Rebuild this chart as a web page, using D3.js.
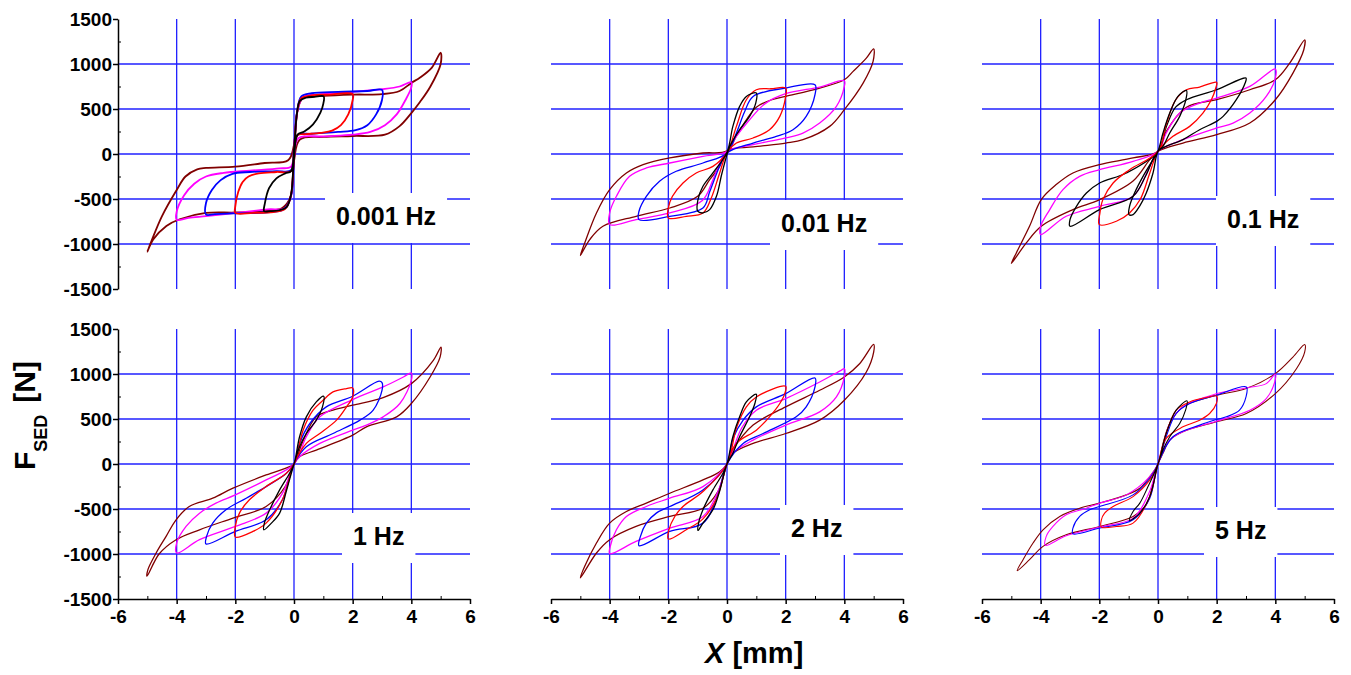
<!DOCTYPE html>
<html>
<head>
<meta charset="utf-8">
<script src="https://cdnjs.cloudflare.com/ajax/libs/d3/7.8.5/d3.min.js"></script>
<style>
  body { margin: 0; background: #fff; }
  svg text { font-family: "Liberation Sans", Arial, sans-serif; font-weight: bold; }
</style>
</head>
<body>
<div id="chart"></div>
<script>
// frequency of each panel, row by row
var freqLabels = ["0.001 Hz", "0.01 Hz", "0.1 Hz", "1 Hz", "2 Hz", "5 Hz"];

// tick values
var xTicks = [-6, -4, -2, 0, 2, 4, 6];
var xMinor = [-5, -3, -1, 1, 3, 5];
var yTicks = [-1500, -1000, -500, 0, 500, 1000, 1500];
var yMinor = [-1250, -750, -250, 250, 750, 1250];
var xGrid = [-4, -2, 0, 2, 4];
var yGrid = [-1000, -500, 0, 500, 1000];

// loop colours, amplitude 1..5 mm
var loopColors = ["#000000", "#ff0000", "#0000ff", "#ff00ff", "#800000"];
var loopColors01 = ["#000000", "#ff0000", "#000000", "#ff00ff", "#800000"];

// each loop: [X mm, F N], upper branch from -A to +A then lower branch back
var loops0001 = [
  [[-1.02,-635],[-1.0,-560],[-0.85,-380],[-0.6,-270],[-0.3,-215],[-0.1,-190],[0.0,50],[0.1,450],[0.2,590],[0.4,625],[0.7,635],[1.01,640],
   [1.0,560],[0.9,460],[0.65,330],[0.35,250],[0.12,215],[0.0,-50],[-0.1,-450],[-0.25,-590],[-0.5,-625],[-0.8,-635]],
  [[-2,-655],[-2,-580],[-1.9,-420],[-1.75,-310],[-1.55,-250],[-1.2,-215],[-0.6,-200],[-0.1,-190],[0,50],[0.1,450],[0.25,620],[0.6,650],[1.2,660],[2,665],
   [2,600],[1.85,440],[1.6,320],[1.3,260],[0.9,235],[0.4,220],[0.12,210],[0,-50],[-0.1,-450],[-0.3,-610],[-0.7,-645],[-1.4,-655]],
  [[-3,-672],[-3,-545],[-2.8,-400],[-2.5,-290],[-2.1,-220],[-1.5,-200],[-0.6,-190],[-0.1,-180],[0,60],[0.1,460],[0.25,640],[0.6,675],[1.5,690],[2.5,700],[3,712],
   [3,600],[2.8,440],[2.5,320],[2.1,265],[1.5,245],[0.6,225],[0.12,210],[0,-50],[-0.1,-460],[-0.35,-615],[-1,-650],[-2,-660],[-2.7,-668]],
  [[-4,-730],[-4,-640],[-3.75,-460],[-3.4,-330],[-3,-250],[-2.4,-210],[-1.5,-185],[-0.5,-160],[-0.1,-140],[0,80],[0.12,480],[0.3,630],[0.8,660],[2,690],[3,720],[3.6,750],[4,797],
   [4,740],[3.8,600],[3.5,440],[3.1,320],[2.6,245],[2,215],[1,195],[0.15,175],[0,-60],[-0.1,-470],[-0.3,-600],[-0.9,-615],[-2,-655],[-3,-690],[-3.6,-710]],
  [[-5.0,-1085],[-4.85,-960],[-4.5,-690],[-4.0,-400],[-3.7,-250],[-3.3,-170],[-3.0,-155],[-2,-140],[-1,-100],[-0.2,-70],[0,100],[0.12,480],[0.3,620],[1,645],[2,660],[3,665],[3.6,700],[4,790],[4.3,850],[4.7,960],[5.0,1125],
   [5.0,1000],[4.65,750],[4.3,580],[4,455],[3.6,310],[3.1,215],[2,200],[1,190],[0.2,160],[0,-80],[-0.12,-480],[-0.4,-600],[-1,-635],[-2,-650],[-3,-655],[-3.9,-725],[-4.35,-800],[-4.8,-950]]
];

var loops001 = [
  [[-1,-636],[-0.99,-507],[-0.82,-359],[-0.48,-211],[0,20],[0.2,307],[0.43,529],[0.66,640],[1,677],
   [0.98,566],[0.77,418],[0.43,270],[0.1,85],[-0.17,-211],[-0.36,-470],[-0.59,-618],[-0.82,-655]],
  [[-2,-710],[-2,-600],[-1.86,-470],[-1.5,-322],[-1.05,-211],[-0.48,-137],[0,15],[0.32,307],[0.66,603],[1,714],[1.5,725],[2,733],
   [2,640],[1.8,418],[1.45,270],[0.89,178],[0.32,122],[0,15],[-0.25,-211],[-0.55,-500],[-0.82,-655],[-1.39,-692]],
  [[-3,-729],[-3,-636],[-2.75,-470],[-2.3,-303],[-1.73,-192],[-0.82,-100],[0,11],[0.32,233],[0.6,470],[0.89,640],[2,733],[3,770],
   [3,659],[2.7,418],[2.25,270],[1.68,196],[0.89,122],[0,11],[-0.25,-137],[-0.59,-420],[-0.82,-600],[-1.95,-692]],
  [[-4,-784],[-4,-655],[-3.77,-470],[-3.32,-248],[-2.75,-155],[-1.95,-100],[-0.82,-26],[0,30],[0.32,196],[0.77,381],[1.3,560],[2,670],[3.16,744],[4,814],
   [4,751],[3.73,529],[3.16,344],[2.59,233],[2,178],[0.89,104],[0,30],[-0.25,-100],[-0.48,-285],[-0.85,-520],[-1.95,-655],[-3.1,-729]],
  [[-5,-1128],[-4.85,-988],[-4.45,-655],[-4,-396],[-3.43,-211],[-2.86,-118],[-1.95,-44],[-0.82,11],[0,35],[0.32,200],[0.66,380],[1,520],[1.5,600],[2,640],[3.16,733],[4,825],[4.3,918],[4.75,1066],[5,1169],
   [4.98,1029],[4.64,788],[4,492],[3.5,307],[2.59,159],[2,122],[0.89,78],[0,35],[-0.25,-137],[-0.59,-285],[-1,-470],[-1.95,-600],[-3.1,-692],[-4.23,-803],[-4.68,-951]]
];

var loops01 = [
  [[-0.99,-673],[-0.97,-581],[-0.8,-433],[-0.51,-248],[-0.17,-63],[0,30],[0.17,233],[0.4,455],[0.68,640],[0.97,707],
   [0.95,603],[0.74,418],[0.4,233],[0.17,85],[0,30],[-0.17,-211],[-0.4,-433],[-0.63,-581],[-0.85,-673]],
  [[-2,-784],[-1.98,-655],[-1.88,-507],[-1.53,-322],[-0.97,-174],[0,30],[0.28,330],[0.6,600],[0.97,714],[1.42,744],[2,796],
   [1.97,733],[1.82,603],[1.53,455],[1.08,307],[0.51,196],[0,30],[-0.28,-211],[-0.6,-500],[-0.97,-655],[-1.42,-747]],
  [[-3,-803],[-3,-729],[-2.78,-581],[-2.44,-433],[-1.99,-322],[-1.08,-211],[0,30],[0.28,300],[0.6,520],[0.97,603],[2,714],[3,844],
   [2.97,788],[2.67,603],[2.22,418],[2,363],[1.42,270],[0.85,159],[0,30],[-0.4,-230],[-0.85,-470],[-1.99,-618]],
  [[-4,-895],[-4,-803],[-3.69,-618],[-3.24,-396],[-2.67,-248],[-1.99,-174],[-0.85,-81],[0,30],[0.28,233],[0.74,455],[1.42,566],[2,622],[3.13,751],[4,944],
   [4,844],[3.69,640],[3.13,455],[2.56,344],[2,289],[0.85,159],[0,30],[-0.28,-137],[-0.85,-470],[-1.99,-581],[-3.13,-692]],
  [[-5,-1217],[-4.83,-1099],[-4.38,-803],[-3.98,-507],[-3.47,-340],[-2.9,-211],[-1.99,-118],[-0.85,-44],[0,30],[0.28,250],[0.97,520],[2,603],[3.13,714],[4,825],[4.49,1010],[5,1269],
   [4.97,1158],[4.6,899],[4,603],[3.13,344],[2,215],[0.85,122],[0,30],[-0.28,-63],[-0.85,-300],[-1.99,-507],[-2.9,-618],[-3.98,-803],[-4.49,-988]]
];

var loops1 = [
  [[-1.03,-731],[-1.01,-657],[-0.83,-509],[-0.49,-288],[-0.15,-103],[0,0],[0.19,303],[0.42,524],[0.76,690],[1.01,753],
   [0.97,635],[0.76,487],[0.42,339],[0.19,192],[0,0],[-0.26,-300],[-0.49,-546],[-0.77,-657]],
  [[-2,-812],[-2,-694],[-1.86,-546],[-1.52,-398],[-0.95,-251],[-0.26,-103],[0,0],[0.31,376],[0.65,598],[0.99,708],[1.33,801],[1.79,838],[2,845],
   [2,745],[1.79,635],[1.45,487],[0.88,339],[0.42,229],[0,0],[-0.4,-400],[-0.95,-657],[-1.4,-749]],
  [[-3,-889],[-2.98,-804],[-2.77,-657],[-2.32,-509],[-1.63,-380],[-0.95,-251],[-0.26,-103],[0,0],[0.19,229],[0.54,450],[1.1,635],[2,753],[2.9,920],[3,905],
   [3,819],[2.7,598],[2.25,487],[1.33,339],[0.42,192],[0,0],[-0.4,-400],[-0.95,-620],[-2,-749]],
  [[-4,-989],[-4,-878],[-3.68,-694],[-3.22,-546],[-2.66,-435],[-2,-343],[-0.95,-177],[0,0],[0.42,303],[0.88,524],[2,716],[3.04,856],[3.73,967],[4,1011],
   [4,930],[3.61,672],[3.04,524],[2.47,432],[2,376],[0.88,229],[0.19,81],[0,0],[-0.4,-330],[-0.95,-546],[-2,-694],[-3.22,-841]],
  [[-5.01,-1247],[-4.98,-1173],[-4.7,-989],[-4.36,-804],[-4.02,-620],[-3.57,-472],[-2.77,-380],[-2.08,-269],[-0.95,-122],[-0.15,-30],[0,0],[0.3,250],[0.76,524],[1.33,598],[2,653],[3.04,738],[4,893],[4.75,1151],[5.01,1299],
   [4.98,1188],[4.64,967],[4,672],[3.5,524],[2.47,413],[2,321],[0.76,155],[0.19,81],[0,0],[-0.3,-250],[-0.95,-472],[-2.08,-601],[-3.22,-731],[-4.02,-841],[-4.6,-1000]]
];

var loops2 = [
  [[-0.99,-738],[-0.97,-657],[-0.82,-509],[-0.48,-288],[-0.14,-103],[0,0],[0.2,303],[0.43,524],[0.66,690],[1,775],
   [0.95,672],[0.77,524],[0.43,303],[0.2,118],[0,0],[-0.25,-300],[-0.48,-509],[-0.82,-657]],
  [[-2,-834],[-1.98,-731],[-1.78,-583],[-1.5,-472],[-0.82,-306],[0,0],[0.32,400],[0.66,635],[1,745],[2,863],
   [1.97,782],[1.8,672],[1.45,524],[1,376],[0.32,229],[0,0],[-0.35,-380],[-0.82,-610],[-1.39,-731]],
  [[-3,-908],[-2.95,-804],[-2.75,-657],[-2.41,-546],[-1.95,-472],[-0.82,-288],[0,0],[0.2,280],[0.55,487],[1,635],[2,782],[3,956],
   [3,856],[2.7,635],[2.36,524],[1.23,339],[0.55,229],[0,0],[-0.3,-330],[-0.82,-657],[-1.95,-749]],
  [[-4,-996],[-3.98,-915],[-3.77,-731],[-3.43,-583],[-2.75,-472],[-1.95,-380],[-0.82,-251],[0,0],[0.2,155],[0.5,400],[1,598],[2,727],[3.16,911],[3.89,1041],[4,1059],
   [4,967],[3.73,745],[3.16,579],[2,432],[0.89,266],[0.2,120],[0,0],[-0.3,-300],[-0.82,-583],[-1.95,-712],[-3.1,-860]],
  [[-5,-1266],[-4.85,-1137],[-4.45,-878],[-4,-657],[-3.43,-528],[-2.75,-435],[-1.95,-325],[-0.82,-177],[-0.25,-85],[0,0],[0.2,155],[0.89,432],[2,635],[3.16,819],[4,967],[4.52,1114],[5,1328],
   [5,1243],[4.75,1022],[4,708],[3.16,487],[2,339],[0.89,229],[0.2,118],[0,0],[-0.3,-300],[-0.82,-491],[-1.95,-583],[-3.1,-694],[-4,-841],[-4.45,-989]]
];

var loops5 = [
  [[-0.97,-627],[-0.85,-528],[-0.62,-435],[-0.34,-251],[0,0],[0.28,340],[0.62,598],[0.99,701],
   [0.94,598],[0.74,450],[0.4,303],[0.17,155],[0,0],[-0.28,-362],[-0.62,-546]],
  [[-1.93,-701],[-1.93,-620],[-1.82,-546],[-1.53,-472],[-0.85,-362],[-0.28,-177],[0,0],[0.28,340],[0.62,598],[1.08,690],[1.65,738],[2,753],
   [1.99,672],[1.76,561],[1.42,487],[0.85,413],[0.28,284],[0,0],[-0.28,-362],[-0.85,-657],[-1.42,-694]],
  [[-2.9,-775],[-2.9,-712],[-2.67,-583],[-2.33,-509],[-1.99,-472],[-0.85,-343],[-0.28,-159],[0,0],[0.28,303],[0.62,561],[1.08,672],[1.99,764],[3.01,856],
   [3,745],[2.78,598],[2.33,524],[1.99,494],[1.42,432],[0.51,303],[0,0],[-0.28,-380],[-0.85,-620],[-1.99,-712]],
  [[-3.84,-904],[-3.81,-804],[-3.58,-694],[-3.13,-565],[-2.44,-491],[-1.99,-435],[-1.08,-343],[-0.28,-140],[0,0],[0.4,450],[0.85,635],[1.99,780],[3.01,845],[3.69,893],[4,1000],
   [3.98,911],[3.69,727],[3.13,598],[1.99,476],[0.85,358],[0.4,266],[0,0],[-0.28,-300],[-0.85,-601],[-1.99,-701],[-3.13,-797]],
  [[-4.8,-1185],[-4.6,-1063],[-4.26,-878],[-3.92,-731],[-3.35,-583],[-2.67,-491],[-1.99,-435],[-1.08,-343],[-0.62,-269],[-0.28,-140],[0,0],[0.17,229],[0.4,450],[0.85,635],[1.99,764],[3.01,838],[4,1004],[4.6,1188],[5,1328],
   [5,1243],[4.72,1059],[4,782],[3.01,561],[1.99,469],[0.85,358],[0.4,266],[0.17,118],[0,0],[-0.17,-214],[-0.4,-450],[-0.85,-583],[-1.99,-694],[-3.13,-786],[-3.92,-915],[-4.38,-1063]]
];

var panelLoops = [loops0001, loops001, loops01, loops1, loops2, loops5];
var panelColors = [loopColors, loopColors, loopColors01, loopColors, loopColors, loopColors];

// layout
var panelLeft = [118, 551, 982],
    panelTop = [19, 329],
    panelW = 352,
    panelH = 270;
var lineWidth = [1.8, 1.3, 1.3, 1.3, 1.3, 1.1];
// label start / baseline inside each panel (px)
var labelAt = [[218, 206], [230, 213], [245, 209], [235, 216], [240, 208], [233, 210]];

var svg = d3.select("#chart")
  .append("svg")
    .attr("width", 1351)
    .attr("height", 675);

var x = d3.scaleLinear().domain([-6, 6]).range([0, panelW]);
var y = d3.scaleLinear().domain([-1500, 1500]).range([panelH, 0]);

var loopLine = d3.line()
  .x(function(d) { return x(d[0]); })
  .y(function(d) { return y(d[1]); })
  .curve(d3.curveCatmullRomClosed.alpha(0.5));

// plain hyphen for negatives, like the original
var plainNum = function(d) { return String(d); };

freqLabels.forEach(function(label, i) {
  var col = i % 3, row = Math.floor(i / 3);
  var g = svg.append("g")
    .attr("transform", "translate(" + panelLeft[col] + "," + panelTop[row] + ")");

  // grid
  g.selectAll(".vg").data(xGrid).enter().append("line")
    .attr("x1", function(d) { return x(d); })
    .attr("x2", function(d) { return x(d); })
    .attr("y1", y(1500)).attr("y2", y(-1500))
    .style("stroke", "#2020ff").style("stroke-width", 1.3);
  g.selectAll(".hg").data(yGrid).enter().append("line")
    .attr("y1", function(d) { return y(d); })
    .attr("y2", function(d) { return y(d); })
    .attr("x1", x(-6)).attr("x2", x(6))
    .style("stroke", "#2020ff").style("stroke-width", 1.3);

  // frequency label on a white box
  var lab = g.append("g");
  var t = lab.append("text")
    .attr("x", labelAt[i][0])
    .attr("y", labelAt[i][1])
    .style("font-size", "25px")
    .style("fill", "#000")
    .text(label);
  var bb = t.node().getBBox();
  lab.insert("rect", "text")
    .attr("x", bb.x - 11)
    .attr("y", bb.y - 9)
    .attr("width", bb.width + 22)
    .attr("height", bb.height + 22)
    .style("fill", "#fff");

  // loops, largest first
  var loops = panelLoops[i];
  for (var k = loops.length - 1; k >= 0; k--) {
    g.append("path")
      .datum(loops[k])
      .attr("d", loopLine)
      .style("fill", "none")
      .style("stroke", panelColors[i][k])
      .style("stroke-width", lineWidth[i])
      .style("stroke-linejoin", "round");
  }

  // left axis
  if (col === 0) {
    g.append("g")
      .call(d3.axisRight(y).tickValues(yMinor).tickSize(3).tickSizeOuter(0).tickFormat(""))
      .call(function(a) { a.select(".domain").remove(); });
    var ya = g.append("g")
      .call(d3.axisLeft(y).tickValues(yTicks).tickSize(5).tickSizeOuter(0).tickPadding(1).tickFormat(plainNum));
    ya.selectAll("text").style("font-size", "19px").style("font-family", "'Liberation Sans', Arial, sans-serif").style("font-weight", "bold").style("fill", "#000");
    ya.selectAll("line, path").style("stroke", "#000").style("stroke-width", 1.5);
  }
  // bottom axis
  if (row === 1) {
    g.append("g")
      .attr("transform", "translate(0," + panelH + ")")
      .call(d3.axisTop(x).tickValues(xMinor).tickSize(3).tickSizeOuter(0).tickFormat(""))
      .call(function(a) { a.select(".domain").remove(); });
    var xa = g.append("g")
      .attr("transform", "translate(0," + panelH + ")")
      .call(d3.axisBottom(x).tickValues(xTicks).tickSize(5).tickSizeOuter(0).tickPadding(6).tickFormat(plainNum));
    xa.selectAll("text").style("font-size", "19px").style("font-family", "'Liberation Sans', Arial, sans-serif").style("font-weight", "bold").style("fill", "#000");
    xa.selectAll("line, path").style("stroke", "#000").style("stroke-width", 1.5);
  }
});

// axis titles
var yTitle = svg.append("text")
  .attr("transform", "translate(35,470) rotate(-90)")
  .style("font-size", "30px")
  .style("fill", "#000");
yTitle.append("tspan").text("F");
yTitle.append("tspan").attr("dy", 12).style("font-size", "18px").text("SED");
yTitle.append("tspan").attr("dy", -12).attr("dx", 12).text("[N]");

var xTitle = svg.append("text")
  .attr("x", 705)
  .attr("y", 663)
  .style("font-size", "29px")
  .style("fill", "#000");
xTitle.append("tspan").style("font-style", "italic").text("X");
xTitle.append("tspan").text(" [mm]");
</script>
</body>
</html>
